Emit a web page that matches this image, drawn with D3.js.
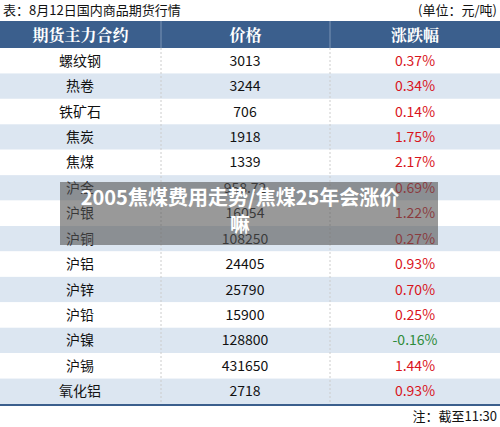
<!DOCTYPE html><html><head><meta charset="utf-8"><script src="https://d3js.org/d3.v7.min.js"></script>
<style>body{margin:0;background:#fff}</style></head><body><script>
const names=["螺纹钢","热卷","铁矿石","焦炭","焦煤","沪金","沪银","沪铜","沪铝","沪锌","沪铅","沪镍","沪锡","氧化铝"];
const prices=["3013","3244","706","1918","1339","958.72","16054","108250","24405","25790","15900","128800","431650","2718"];
const changes=[0.37,0.34,0.14,1.75,2.17,0.69,1.22,0.27,0.93,0.70,0.25,-0.16,1.44,0.93];
const headers=["期货主力合约","价格","涨跌幅"];
const W=500,H=427,font="'Noto Sans CJK SC',sans-serif";
const svg=d3.select("body").append("svg").attr("width",W).attr("height",H);
const colX=[0,161,330,500];
const y=d3.scaleBand().domain(d3.range(names.length)).range([48,404]);
svg.append("text").attr("x",3).attr("y",15).attr("font-family",font).attr("font-size",13).attr("fill","#111").text("表：8月12日国内商品期货行情");
svg.append("text").attr("x",497).attr("y",15).attr("text-anchor","end").attr("font-family",font).attr("font-size",13).attr("fill","#111").text("(单位：元/吨)");
svg.append("rect").attr("x",0).attr("y",21).attr("width",W).attr("height",27).attr("fill","#3b5f8d");
headers.forEach((h,i)=>svg.append("text").attr("x",(colX[i]+colX[i+1])/2).attr("y",41).attr("text-anchor","middle").attr("font-family","'Noto Serif CJK SC',"+font).attr("font-size",16).attr("font-weight","bold").attr("fill","#fff").text(h));
[161,330].forEach(x=>svg.append("line").attr("x1",x).attr("x2",x).attr("y1",21).attr("y2",48).attr("stroke","#7d95b5"));
const g=svg.selectAll("g.r").data(names).join("g").attr("transform",(d,i)=>`translate(0,${y(i)})`);
g.append("rect").attr("width",W).attr("height",y.bandwidth()).attr("fill",(d,i)=>i%2?"#dce6f1":"#fff");
g.append("text").attr("x",80).attr("y",y.bandwidth()/2+5).attr("text-anchor","middle").attr("font-family",font).attr("font-size",14).attr("fill","#111").text(d=>d);
g.append("text").attr("x",245).attr("y",y.bandwidth()/2+5).attr("text-anchor","middle").attr("font-family",font).attr("font-size",14).attr("fill","#111").text((d,i)=>prices[i]);
g.append("text").attr("x",415).attr("y",y.bandwidth()/2+5).attr("text-anchor","middle").attr("font-family",font).attr("font-size",14).attr("fill",(d,i)=>changes[i]<0?"#2e8b3a":"#d9141c").text((d,i)=>changes[i].toFixed(2)+"%");
[161,330].forEach(x=>svg.append("line").attr("x1",x).attr("x2",x).attr("y1",48).attr("y2",404).attr("stroke","#ccc").attr("stroke-dasharray","2,2"));
svg.append("line").attr("x1",0).attr("x2",W).attr("y1",405).attr("y2",405).attr("stroke","#3b5f8d").attr("stroke-width",2);
svg.append("text").attr("x",497).attr("y",421).attr("text-anchor","end").attr("font-family",font).attr("font-size",13).attr("fill","#111").text("注：截至11:30");
svg.append("rect").attr("x",60).attr("y",182).attr("width",378).attr("height",63).attr("fill","#555").attr("opacity",0.6);
const t=svg.append("text").attr("text-anchor","middle").attr("font-family",font).attr("font-size",20).attr("font-weight","bold").attr("fill","#fff");
t.append("tspan").attr("x",240).attr("y",205).text("2005焦煤费用走势/焦煤25年会涨价");
t.append("tspan").attr("x",240).attr("y",232).text("嘛");
</script></body></html>
